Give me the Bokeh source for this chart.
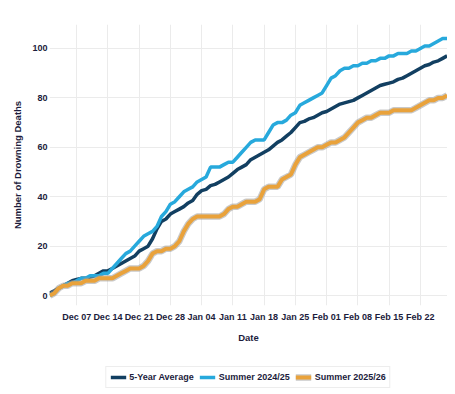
import pandas as pd
from bokeh.plotting import figure
from bokeh.layouts import column
from bokeh.models import (Legend, LegendItem, FixedTicker, DatetimeTickFormatter,
                          Range1d, ColumnDataSource)
from bokeh.embed import file_html
from bokeh.resources import INLINE

# ---- data ----
start_date = "2025-12-01"
end_date = "2026-02-28"

avg_5yr = [1, 2, 3, 4, 5, 6, 6.5,
           7, 7, 7.5, 8, 9, 10, 10,
           11, 12, 13, 14, 15, 16, 18,
           19, 20, 23, 27, 30, 31, 33,
           34, 35, 36, 37.5, 38.5, 41, 42.5,
           43, 44.5, 45, 46, 47, 48, 49.5,
           51, 52, 53, 55, 56, 57, 58,
           59, 60.5, 62, 63, 64.5, 66, 68,
           70, 70.5, 71.5, 72, 73, 74, 74.5,
           75.5, 76.5, 77.5, 78, 78.5, 79, 80,
           81, 82, 83, 84, 85, 85.5, 86,
           86.5, 87.5, 88, 89, 90, 91, 92,
           93, 93.5, 94.5, 95, 96, 97]

summer_2425 = [0, 1, 3, 4, 5, 5, 6,
               7, 7, 8, 8, 8, 9, 9,
               11, 13, 15, 17, 18, 20, 22,
               24, 25, 26, 28, 32, 34, 37,
               38, 40, 42, 43, 44, 46, 47,
               48, 52, 52, 52, 53, 54, 54,
               56, 58, 60, 62, 63, 63, 63,
               66, 69, 70, 70, 71, 73, 74,
               77, 78, 79, 80, 81, 82, 85,
               88, 89, 91, 92, 92, 93, 93,
               94, 94, 95, 95, 96, 96, 97,
               97, 98, 98, 98, 99, 99, 100,
               101, 101, 102, 103, 104, 104]

summer_2526 = [0, 1, 3, 4, 4, 5, 5,
               5, 6, 6, 6, 7, 7, 7,
               7, 8, 9, 10, 11, 11, 11,
               12, 14, 17, 18, 18, 19, 19,
               20, 22, 26, 29, 31, 32, 32,
               32, 32, 32, 32, 33, 35, 36,
               36, 37, 38, 38, 38, 39, 43,
               44, 44, 44, 47, 48, 49, 53,
               56, 57, 58, 59, 60, 60, 61,
               62, 62, 63, 64, 66, 68, 70,
               71, 72, 72, 73, 74, 74, 74,
               75, 75, 75, 75, 75, 76, 77,
               78, 79, 79, 80, 80, 81]

series_names = ["5-Year Average", "Summer 2024/25", "Summer 2025/26"]
x_tick_dates = ["2025-12-07", "2025-12-14", "2025-12-21", "2025-12-28",
                "2026-01-04", "2026-01-11", "2026-01-18", "2026-01-25",
                "2026-02-01", "2026-02-08", "2026-02-15", "2026-02-22"]
y_ticks = [0, 20, 40, 60, 80, 100]

# ---- styling ----
NAVY = "#123f61"
LIGHT = "#27a9dc"
ORANGE = "#e9a23b"
SHADOW = "#9c9c9c"
TEXT = "#1c1c3c"
FONT = "Liberation Sans"

dates = pd.date_range(start_date, end_date, freq="D")
src = ColumnDataSource(dict(date=dates, avg=avg_5yr, s2425=summer_2425, s2526=summer_2526))

x0 = pd.Timestamp(start_date) - pd.Timedelta(hours=2)
x1 = pd.Timestamp(end_date) + pd.Timedelta(hours=2)

p = figure(width=447, height=345, x_axis_type="datetime",
           x_range=Range1d(x0, x1), y_range=Range1d(-4, 109.7),
           output_backend="svg", toolbar_location=None,
           min_border_left=49, min_border_right=0, min_border_top=24,
           min_border_bottom=40)
p.outline_line_color = None
p.background_fill_color = "white"
p.border_fill_color = "white"

p.line("date", "avg", source=src, line_color=NAVY, line_width=3.5)
p.line("date", "s2425", source=src, line_color=LIGHT, line_width=3.5)
p.line("date", "s2526", source=src, line_color=SHADOW, line_width=6.5, line_alpha=0.55)
p.line("date", "s2526", source=src, line_color=ORANGE, line_width=4)

tick_ms = [pd.Timestamp(d).value / 1e6 for d in x_tick_dates]
p.xaxis.ticker = FixedTicker(ticks=tick_ms)
p.xaxis.formatter = DatetimeTickFormatter(days="%b %d", months="%b %d")
p.yaxis.ticker = FixedTicker(ticks=y_ticks)

for ax in (p.xaxis[0], p.yaxis[0]):
    ax.axis_line_color = None
    ax.major_tick_line_color = None
    ax.minor_tick_line_color = None
    ax.major_tick_out = 0
    ax.major_tick_in = 0
    ax.major_label_text_font = FONT
    ax.major_label_text_font_style = "bold"
    ax.major_label_text_font_size = "9px"
    ax.major_label_text_color = TEXT
    ax.axis_label_text_font = FONT
    ax.axis_label_text_font_style = "bold"
    ax.axis_label_text_font_size = "9.5px"
    ax.axis_label_text_color = TEXT

p.xaxis.axis_label = "Date"
p.yaxis.axis_label = "Number of Drowning Deaths"
p.xaxis.major_label_standoff = 6
p.xaxis.axis_label_standoff = 7
p.yaxis.major_label_standoff = 2
p.yaxis.axis_label_standoff = 6

p.xgrid.grid_line_color = "#ebebeb"
p.ygrid.grid_line_color = "#ebebeb"
p.xgrid.grid_line_width = 1
p.ygrid.grid_line_width = 1

# ---- legend strip below the chart (proxy lines lie outside its fixed ranges) ----
lg = figure(width=447, height=47, x_axis_type=None, y_axis_type=None,
            x_range=Range1d(0, 1), y_range=Range1d(0, 1),
            output_backend="svg", toolbar_location=None,
            min_border_left=49, min_border_right=0, min_border_top=0, min_border_bottom=0)
lg.outline_line_color = None
lg.xgrid.visible = False
lg.ygrid.visible = False
k_avg = lg.line("date", "avg", source=src, line_color=NAVY, line_width=3.5)
k_2425 = lg.line("date", "s2425", source=src, line_color=LIGHT, line_width=3.5)
k_sh = lg.line("date", "s2526", source=src, line_color=SHADOW, line_width=6.5, line_alpha=0.55)
k_2526 = lg.line("date", "s2526", source=src, line_color=ORANGE, line_width=4)

legend = Legend(items=[LegendItem(label=series_names[0], renderers=[k_avg]),
                       LegendItem(label=series_names[1], renderers=[k_2425]),
                       LegendItem(label=series_names[2], renderers=[k_sh, k_2526])],
                orientation="horizontal", location="bottom")
legend.label_text_font = FONT
legend.label_text_font_style = "bold"
legend.label_text_font_size = "9px"
legend.label_text_color = TEXT
legend.glyph_width = 16
legend.glyph_height = 12
legend.label_standoff = 3
legend.spacing = 6
legend.padding = 4
legend.margin = 4
legend.border_line_color = "#dcdcdc"
legend.border_line_width = 1
legend.background_fill_color = "white"
lg.add_layout(legend, "center")

layout = column(p, lg, spacing=0)
open("out.html", "w").write(file_html(layout, INLINE))
